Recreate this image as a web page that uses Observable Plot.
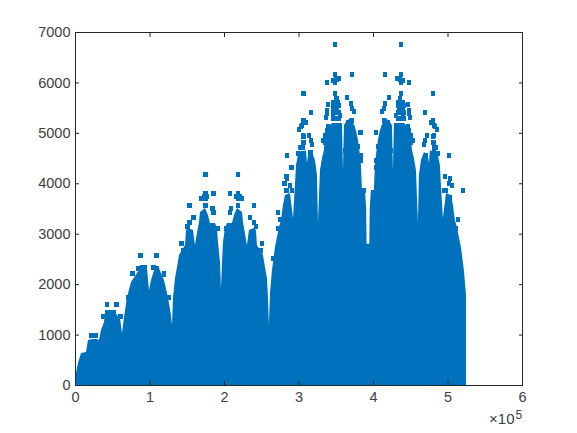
<!DOCTYPE html>
<html><head><meta charset="utf-8">
<script src="https://cdn.jsdelivr.net/npm/d3@7"></script>
<script src="https://cdn.jsdelivr.net/npm/@observablehq/plot@0.6"></script>
<style>html,body{margin:0;padding:0;background:#fff}svg{display:block}</style>
</head><body><div id="chart"></div>
<script>
// x values are in thousands
const envX = [0,1.3,4,8.1,14.8,17.4,22.8,29.5,32.2,34.9,38.9,40.3,44.3,52.3,56.4,60.4,63.1,65.8,69.8,75.2,83.2,87.2,96.6,99.3,102,107.4,112.7,119.4,124.8,128.8,130.2,131.5,134.2,136.9,139.6,147.6,149,151.6,158.4,161,163.7,166.4,167.8,174.5,178.5,181.2,187.9,190.6,191.9,194.6,195.9,197.3,198.6,201.3,204,210.7,213.4,217.4,224.1,225.5,228.1,230.8,233.5,240.2,242.9,244.2,252.3,255,257.7,259,260.3,261.7,264.4,268.4,271.1,273.8,276.5,279.1,281.8,288.5,292.6,295.2,296.6,299.3,310,311.3,312.7,318,322.1,324.8,326.1,328.8,331.5,334.2,335.5,338.2,344.9,358.3,359.7,361,363.7,369,373,377.1,379.8,382.5,383.8,385.2,389.2,390.8,391.4,395,395.6,397.2,401.2,402.6,403.9,406.6,409.3,413.4,417.4,422.7,425.4,426.7,428.1,441.5,448.2,450.9,452.2,454.9,457.6,460.3,461.6,464.3,468.4,473.7,475.1,476.4,487.1,489.8,491.2,493.8,497.9,504.6,507.3,509.9,512.6,515.3,518,522,524.6,524.9];
const envY = [0,238,436,635,654,892,912,912,892,1091,1249,1428,1467,1467,1388,1329,1031,1348,1745,2043,2221,2320,2320,1884,2082,2340,2320,2082,1745,1388,1190,1725,2122,2340,2578,2776,3074,3113,3074,2776,3014,3232,3431,3510,3371,3212,3212,3113,2836,2439,1923,2439,2836,3113,3212,3212,3371,3510,3431,3232,3014,2776,3074,3113,3074,2776,2578,2340,2122,1725,1190,1824,2280,2737,2935,3133,3272,3569,3768,3807,3312,3966,4363,4561,4660,4402,4561,4620,4462,4164,3232,4263,4501,4660,4958,5096,5195,5195,4263,5156,5215,5295,5215,5057,4858,4561,4363,3867,3867,3510,2800,2800,3510,3867,3867,4363,4561,4858,5057,5215,5295,5215,5156,4263,5195,5195,5096,4958,4660,4501,4263,3232,4164,4462,4620,4561,4402,4660,4561,4363,3966,3312,3807,3768,3569,3272,3133,2935,2737,2280,1824,1700,0];

const dotX = [42.9,55,37.6,60.4,42.9,47,51,21.5,26.8,
 87.2,108.7,76.5,119.4,84.5,89.9,92.6,104.7,110,71.1,124.8,119.4,
 174.5,174.5,173.1,169.1,177.1,174.5,185.2,153,174.5,183.9,185.2,158.4,153,150.3,190.6,142.3,144.9,
 218.7,218.7,220.1,224.1,216.1,218.7,208,240.2,218.7,209.3,208,234.8,240.2,242.9,202.6,250.9,248.3,
 348.9,348.9,371.3,338.2,346.2,350.3,354.3,348.9,306,348.9,365,339.5,348.9,346.2,352.9,350.3,370.4,371.7,374.4,316.7,338.2,338.2,336.8,346.2,351.6,346.2,355.6,350.3,306,308.7,304.6,303.3,300.6,371.7,366.4,366.4,371.7,382.5,339.5,338.2,340.9,306,306,304.6,302,314,316.7,318,332.8,339.5,338.2,366.4,371.7,365,373,362.3,379.8,284.5,299.3,304.6,315.4,382.5,382.5,289.9,283.2,284.5,280.5,288.5,291.2,283.2,284.5,272.4,275.1,272.4,265.7,387.8,
 437.5,437.5,415.1,448.2,440.2,436.1,432.1,437.5,480.4,437.5,421.4,446.9,437.5,440.2,433.5,436.1,416,414.7,412,469.7,448.2,448.2,449.6,440.2,434.8,440.2,430.8,436.1,480.4,477.7,481.8,483.1,485.8,414.7,420,420,414.7,403.9,446.9,448.2,445.5,480.4,480.4,481.8,484.4,472.4,469.7,468.4,453.6,446.9,448.2,420,414.7,421.4,413.4,424.1,406.6,501.9,487.1,481.8,471,403.9,403.9,496.5,503.2,501.9,505.9,497.9,495.2,503.2,501.9,514,511.3,514,520.7,398.6];
const dotY = [1606,1606,1368,1368,1448,1448,1448,992,992,
 2578,2578,2221,2221,2320,2340,2340,2340,2320,1745,1745,2201,
 4184,3807,3748,3708,3748,3708,3807,3569,3569,3510,3431,3331,3232,3153,3113,2816,2677,
 4184,3807,3748,3708,3748,3708,3807,3569,3569,3510,3431,3331,3232,3153,3113,2816,2677,
 6762,6167,6167,6008,6048,6068,6088,6008,5790,5790,5711,5572,5612,5612,5612,5691,5592,5493,5433,5414,5453,5394,5314,5453,5493,5354,5354,5295,5255,5215,5156,5136,5076,5255,5215,5116,5057,5017,5136,5057,5017,4938,4819,4720,4720,4958,4858,4779,4858,4918,4799,4958,4898,4819,4720,4660,4739,4561,4601,4601,4620,4561,4462,4323,4145,4105,4006,3966,3867,3867,3728,3431,3292,3113,2518,3867,
 6762,6167,6167,6008,6048,6068,6088,6008,5790,5790,5711,5572,5612,5612,5612,5691,5592,5493,5433,5414,5453,5394,5314,5453,5493,5354,5354,5295,5255,5215,5156,5136,5076,5255,5215,5116,5057,5017,5136,5057,5017,4938,4819,4720,4720,4958,4858,4779,4858,4918,4799,4958,4898,4819,4720,4660,4739,4561,4601,4620,4561,4462,4323,4145,4105,4006,3966,3867,3867,3728,3431,3292,3113,2518,3867];

// Dense clusters just above the solid mass
const clusterX = [345.5,348.2,350.9,353.5,345.5,348.2,350.9,353.5,345.5,348.2,350.9,353.5,
 335.5,339.5,342.2,335.5,339.5,342.2,
 365,367.7,370.4,373,365,367.7,370.4,373,365,367.7,370.4,373,
 305.3,305.3,305.3,
 440.9,438.2,435.5,432.9,440.9,438.2,435.5,432.9,440.9,438.2,435.5,432.9,
 450.9,446.9,444.2,450.9,446.9,444.2,
 421.4,418.7,416,413.4,421.4,418.7,416,413.4,421.4,418.7,416,413.4,
 481.1,481.1,481.1];
const clusterY = [5552,5552,5552,5552,5414,5414,5414,5414,5295,5295,5295,5295,
 4958,4958,4958,4819,4819,4819,
 5096,5096,5096,5096,4958,4958,4958,4958,4819,4819,4819,4819,
 4958,4819,4720,
 5552,5552,5552,5552,5414,5414,5414,5414,5295,5295,5295,5295,
 4958,4958,4958,4819,4819,4819,
 5096,5096,5096,5096,4958,4958,4958,4958,4819,4819,4819,4819,
 4958,4819,4720];

const xTicks = [0,100,200,300,400,500,600];
const yTicks = [0,1000,2000,3000,4000,5000,6000,7000];
const blue = "#0072BD", ink = "#262626";

const envelope = envX.map((x,i)=>({x,y:envY[i]}));
const dots = dotX.map((x,i)=>({x,y:dotY[i]})).concat(clusterX.map((x,i)=>({x,y:clusterY[i]})));

const chart = Plot.plot({
  width:577, height:433,
  marginLeft:75, marginRight:55, marginTop:32, marginBottom:48,
  style:{fontFamily:"'Liberation Sans',Arial,sans-serif",fontSize:"14.5px",color:"#404040",background:"#fff"},
  x:{domain:[0,600],label:null},
  y:{domain:[0,7000],label:null},
  marks:[
    Plot.areaY(envelope,{x:"x",y:"y",curve:"linear",fill:blue}),
    Plot.dot(dots,{x:"x",y:"y",r:2.3,fill:blue,stroke:"none",symbol:"square",shapeRendering:"crispEdges"}),
    Plot.frame({stroke:ink}),
    Plot.axisX({ticks:xTicks,anchor:"bottom",tickSize:-4,tickPadding:10,tickFormat:d=>String(d/100),label:null,stroke:ink}),
    Plot.axisX({ticks:xTicks,anchor:"top",tickSize:-4,tickFormat:()=>"",label:null,stroke:ink}),
    Plot.axisY({ticks:yTicks,anchor:"left",tickSize:-4,tickPadding:9,tickFormat:d=>String(d),label:null,stroke:ink}),
    Plot.axisY({ticks:yTicks,anchor:"right",tickSize:-4,tickFormat:()=>"",label:null,stroke:ink}),
    Plot.text(["×10"],{frameAnchor:"bottom-right",dx:-8,dy:38,textAnchor:"end",fontSize:15,fill:"#404040"}),
    Plot.text(["5"],{frameAnchor:"bottom-right",dx:-7,dy:33,textAnchor:"start",fontSize:12,fill:"#404040"})
  ]
});
document.getElementById("chart").append(chart);
</script>
</body></html>
